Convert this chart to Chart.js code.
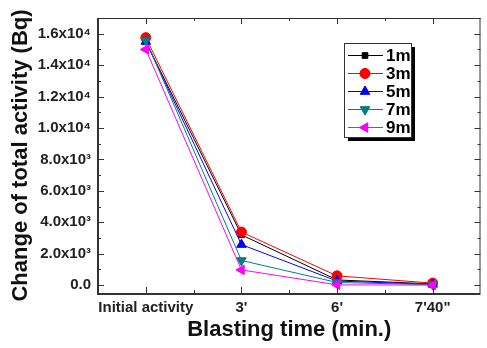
<!DOCTYPE html>
<html>
<head>
<meta charset="utf-8">
<script src="https://cdn.jsdelivr.net/npm/chart.js@4.4.1/dist/chart.umd.min.js"></script>
<style>
  html, body { margin: 0; padding: 0; background: #fff; }
  #wrap { width: 487px; height: 348px; }
</style>
</head>
<body>
<div id="wrap"><canvas id="grafica"></canvas></div>
<script>
// datos
var categorias = ["Initial activity", "3'", "6'", "7'40\""];
var serie1m = [15500, 3200, 330, 80];
var serie3m = [15750, 3380, 590, 130];
var serie5m = [15500, 2580, 260, 50];
var serie7m = [15600, 1570, 170, 30];
var serie9m = [15000, 970, 20, 0];
var nombresSeries = ["1m", "3m", "5m", "7m", "9m"];
var yTicks = [0, 2000, 4000, 6000, 8000, 10000, 12000, 14000, 16000];
var yTickLabels = ["0.0", "2.0x10\u00b3", "4.0x10\u00b3", "6.0x10\u00b3", "8.0x10\u00b3",
  "1.0x10\u2074", "1.2x10\u2074", "1.4x10\u2074", "1.6x10\u2074"];

var fuente = "'Liberation Sans', Arial, sans-serif";
var colores = ["#000000", "#ff0000", "#0000ff", "#008080", "#ff00ff"];
var estilos = ["rect", "circle", "triangle", "triangle", "triangle"];
var rotaciones = [0, 0, 0, 180, -90];
var radios = [4, 5, 5.5, 5.5, 5.5];
var valores = [serie1m, serie3m, serie5m, serie7m, serie9m];

var datasets = valores.map(function (v, i) {
  return {
    label: nombresSeries[i],
    data: v,
    borderColor: colores[i],
    backgroundColor: colores[i],
    borderWidth: 1,
    pointStyle: estilos[i],
    rotation: rotaciones[i],
    pointRadius: radios[i],
    pointBorderWidth: 1,
    order: 5 - i,
    tension: 0,
  };
});

// marco y marcas de los ejes hacia adentro (estilo Origin)
var marcoPlugin = {
  id: "marco",
  afterDraw: function (chart) {
    var ctx = chart.ctx;
    var a = chart.chartArea;
    var xs = chart.scales.x;
    var ys = chart.scales.y;
    ctx.save();
    ctx.strokeStyle = "#333";
    ctx.lineWidth = 1;
    // marcas eje x
    for (var i = 0; i < categorias.length; i++) {
      var px = Math.round(xs.getPixelForValue(i)) + 0.5;
      ctx.beginPath();
      ctx.moveTo(px, a.bottom); ctx.lineTo(px, a.bottom - 6);
      ctx.moveTo(px, a.top); ctx.lineTo(px, a.top + 6);
      ctx.stroke();
      if (i < categorias.length - 1) {
        var pm = Math.round((xs.getPixelForValue(i) + xs.getPixelForValue(i + 1)) / 2) + 0.5;
        ctx.beginPath();
        ctx.moveTo(pm, a.bottom); ctx.lineTo(pm, a.bottom - 3);
        ctx.moveTo(pm, a.top); ctx.lineTo(pm, a.top + 3);
        ctx.stroke();
      }
    }
    // marcas eje y
    for (var v = 0; v <= 17000; v += 1000) {
      var py = Math.round(ys.getPixelForValue(v)) + 0.5;
      var largo = v % 2000 === 0 ? 6 : 3;
      ctx.beginPath();
      ctx.moveTo(a.left, py); ctx.lineTo(a.left + largo, py);
      ctx.moveTo(a.right, py); ctx.lineTo(a.right - largo, py);
      ctx.stroke();
    }
    // ejes
    ctx.beginPath();
    ctx.moveTo(a.left, a.top + 0.5); ctx.lineTo(a.right, a.top + 0.5);
    ctx.moveTo(a.right - 0.5, a.top); ctx.lineTo(a.right - 0.5, a.bottom);
    ctx.stroke();
    ctx.lineWidth = 2;
    ctx.beginPath();
    ctx.moveTo(a.left, a.top); ctx.lineTo(a.left, a.bottom + 1);
    ctx.lineTo(a.right, a.bottom + 1);
    ctx.stroke();

    // leyenda
    var lx = 344, ly = 43, lw = 67, lh = 94;
    ctx.fillStyle = "#000";
    ctx.fillRect(lx + 4, ly + 4, lw, lh);
    ctx.fillStyle = "#fff";
    ctx.fillRect(lx, ly, lw, lh);
    ctx.lineWidth = 1;
    ctx.strokeStyle = "#333";
    ctx.strokeRect(lx + 0.5, ly + 0.5, lw, lh);
    ctx.font = "bold 17px " + fuente;
    ctx.textBaseline = "middle";
    for (var k = 0; k < nombresSeries.length; k++) {
      var fy = 55 + k * 18;
      ctx.strokeStyle = colores[k];
      ctx.beginPath();
      ctx.moveTo(348, fy + 0.5); ctx.lineTo(383, fy + 0.5);
      ctx.stroke();
      Chart.helpers.drawPoint(ctx, {
        pointStyle: estilos[k], rotation: rotaciones[k], radius: radios[k], borderWidth: 1,
      }, 365, fy + 0.5);
      ctx.fillStyle = colores[k];
      ctx.fill();
      ctx.fillStyle = "#000";
      ctx.fillText(nombresSeries[k], 386, fy + 1);
    }
    ctx.restore();
  },
};

new Chart(document.getElementById("grafica"), {
  type: "line",
  data: { labels: categorias, datasets: datasets },
  options: {
    responsive: true,
    maintainAspectRatio: false,
    animation: false,
    layout: { padding: { top: 18, right: 1, left: 0, bottom: 0 } },
    plugins: { legend: { display: false }, tooltip: { enabled: false } },
    scales: {
      x: {
        type: "category",
        offset: true,
        grid: { display: false, drawTicks: false },
        border: { display: false },
        ticks: {
          color: "#222",
          font: { family: fuente, size: 15, weight: "bold" },
          padding: 6,
          maxRotation: 0,
          autoSkip: false,
        },
        title: {
          display: true,
          text: "Blasting time (min.)",
          color: "#111",
          font: { family: fuente, size: 22, weight: "bold" },
          padding: { top: 0, bottom: 5 },
        },
        afterFit: function (scale) { scale.height = 55; },
      },
      y: {
        min: -500,
        max: 17000,
        grid: { display: false, drawTicks: false },
        border: { display: false },
        afterBuildTicks: function (scale) {
          scale.ticks = yTicks.map(function (v) { return { value: v }; });
        },
        ticks: {
          color: "#222",
          font: { family: fuente, size: 15, weight: "bold" },
          padding: 7,
          callback: function (value) {
            var idx = yTicks.indexOf(value);
            return idx >= 0 ? yTickLabels[idx] : "";
          },
        },
        title: {
          display: true,
          text: "Change of total activity (Bq)",
          color: "#111",
          font: { family: fuente, size: 22, weight: "bold" },
          padding: { top: 8, bottom: 0 },
        },
        afterFit: function (scale) { scale.width = 98; },
      },
    },
  },
  plugins: [marcoPlugin],
});
</script>
</body>
</html>
